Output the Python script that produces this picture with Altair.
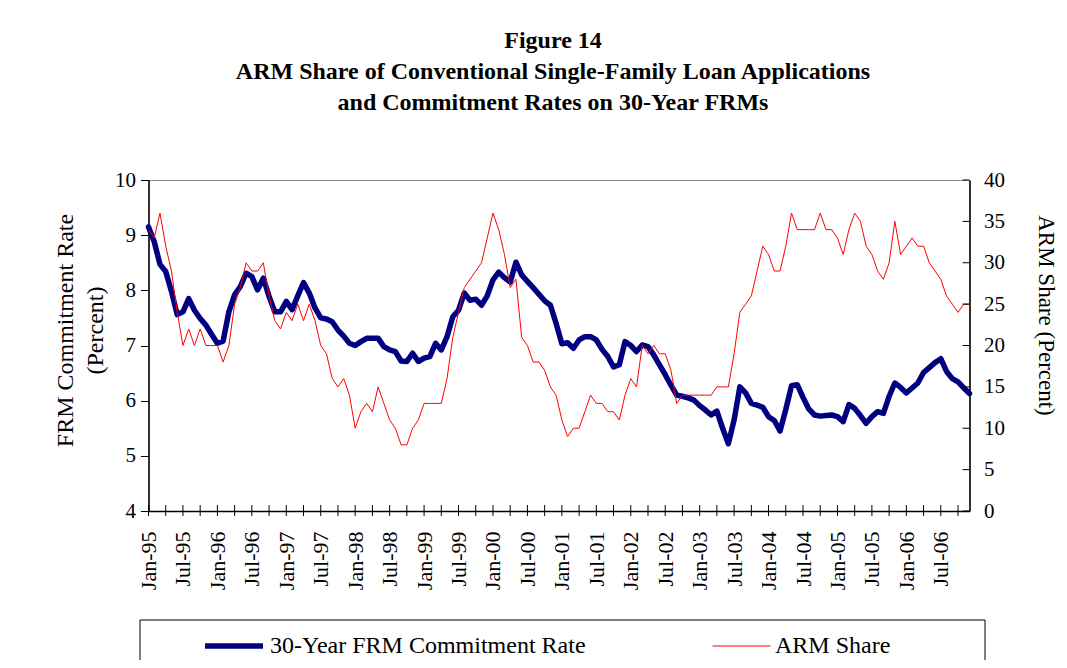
import json
import altair as alt
import pandas as pd

MONTH_NAMES = ["Jan", "Feb", "Mar", "Apr", "May", "Jun",
               "Jul", "Aug", "Sep", "Oct", "Nov", "Dec"]
months = [f"{m}-{y % 100:02d}" for y in range(1995, 2007) for m in MONTH_NAMES]

frm_rate = [
    9.15, 8.88, 8.47, 8.34, 7.98, 7.56, 7.61, 7.85, 7.64, 7.49, 7.37, 7.20,
    7.04, 7.08, 7.61, 7.92, 8.07, 8.31, 8.25, 8.01, 8.22, 7.89, 7.61, 7.61,
    7.80, 7.65, 7.90, 8.14, 7.95, 7.68, 7.50, 7.48, 7.43, 7.28, 7.17, 7.04,
    7.00, 7.07, 7.13, 7.13, 7.13, 6.98, 6.92, 6.89, 6.72, 6.71, 6.86, 6.71,
    6.77, 6.80, 7.04, 6.92, 7.16, 7.52, 7.64, 7.95, 7.82, 7.84, 7.73, 7.90,
    8.19, 8.33, 8.23, 8.15, 8.51, 8.28, 8.16, 8.05, 7.93, 7.81, 7.73, 7.40,
    7.03, 7.05, 6.95, 7.10, 7.16, 7.16, 7.10, 6.93, 6.80, 6.61, 6.65, 7.07,
    7.00, 6.89, 7.01, 6.98, 6.83, 6.65, 6.47, 6.28, 6.10, 6.08, 6.05, 6.01,
    5.91, 5.83, 5.74, 5.81, 5.50, 5.22, 5.65, 6.25, 6.14, 5.95, 5.92, 5.88,
    5.71, 5.64, 5.45, 5.84, 6.27, 6.29, 6.06, 5.85, 5.74, 5.72, 5.73, 5.74,
    5.71, 5.62, 5.93, 5.86, 5.73, 5.59, 5.71, 5.80, 5.77, 6.08, 6.32, 6.24,
    6.14, 6.23, 6.32, 6.51, 6.60, 6.69, 6.76, 6.53, 6.40, 6.34, 6.23, 6.13,
]

arm_share = [
    34, 33, 36, 32, 29, 24, 20, 22, 20, 22, 20, 20,
    20, 18, 20, 25, 27, 30, 29, 29, 30, 26, 23, 22,
    24, 23, 25, 23, 25, 23, 20, 19, 16, 15, 16, 14,
    10, 12, 13, 12, 15, 13, 11, 10, 8, 8, 10, 11,
    13, 13, 13, 13, 16, 21, 24, 27, 28, 29, 30, 33,
    36, 34, 31, 27, 28, 21, 20, 18, 18, 17, 15, 14,
    11, 9, 10, 10, 12, 14, 13, 13, 12, 12, 11, 14,
    16, 15, 20, 19, 20, 19, 19, 17, 13, 14, 14, 14,
    14, 14, 14, 15, 15, 15, 19, 24, 25, 26, 29, 32,
    31, 29, 29, 32, 36, 34, 34, 34, 34, 36, 34, 34,
    33, 31, 34, 36, 35, 32, 31, 29, 28, 30, 35, 31,
    32, 33, 32, 32, 30, 29, 28, 26, 25, 24, 25, 25,
]

frm_ticks = [4, 5, 6, 7, 8, 9, 10]
arm_ticks = [0, 5, 10, 15, 20, 25, 30, 35, 40]
x_label_idx = list(range(0, len(months), 6))
x_tick_idx = list(range(0, len(months), 3))
series_names = ["30-Year FRM Commitment Rate", "ARM Share"]
series_colors = ["#000080", "#FF0000"]
series_widths = [5.5, 1.0]

W, H = 821, 331
FONT = "Liberation Serif"
N = len(months)

df = pd.DataFrame({
    "idx": list(range(N)) * 2,
    "month": months * 2,
    "series": [series_names[0]] * N + [series_names[1]] * N,
    "value": frm_rate + arm_share,
})
df_xticks = pd.DataFrame({"idx": x_tick_idx})
df_aticks = pd.DataFrame({"v": arm_ticks})
df_box = pd.DataFrame({"name": ["legend box"]})

x_enc = alt.X(
    "idx:Q",
    scale=alt.Scale(domain=[0, N - 1], nice=False, zero=False),
    axis=alt.Axis(
        values=x_label_idx, labelExpr=f"{json.dumps(months)}[datum.value]",
        labelAngle=-90, ticks=False, tickSize=0, labelPadding=20,
        labelFont=FONT, labelFontSize=22, labelColor="black",
        domainColor="black", domainWidth=1.5, title=None,
        labelOverlap=False, labelFlush=False, labelBound=False, grid=False,
    ),
)

legend = alt.Legend(
    title=" ", orient="none", legendX=-8.5, legendY=441, direction="horizontal",
    labelFont=FONT, labelFontSize=24, labelColor="black", labelLimit=600,
    symbolType="stroke", symbolSize=3364, clipHeight=26, labelOffset=4,
    columnPadding=126, titleOrient="left", titleFontSize=1, titlePadding=50,
    padding=12,
)

color_enc = alt.Color("series:N", scale=alt.Scale(domain=series_names, range=series_colors),
                      legend=legend)
width_enc = alt.StrokeWidth("series:N", scale=alt.Scale(domain=series_names, range=series_widths),
                            legend=legend)

legend_box = alt.Chart(df_box).mark_rect(
    filled=False, stroke="black", strokeWidth=1
).encode(
    x=alt.value(-8.5), x2=alt.value(836.5), y=alt.value(440), y2=alt.value(510),
)

frm_line = alt.Chart(df).transform_filter(
    alt.datum.series == series_names[0]
).mark_line(strokeJoin="round", strokeCap="round").encode(
    x=x_enc,
    y=alt.Y("value:Q", scale=alt.Scale(domain=[4, 10], nice=False, zero=False),
            axis=alt.Axis(
                orient="left", values=frm_ticks, tickSize=8, tickColor="black",
                domainColor="black", domainWidth=1.5, labelFont=FONT, labelFontSize=21,
                labelColor="black", labelPadding=5, labelFlush=False, grid=False,
                title=["FRM Commitment Rate", "(Percent)"], titleFont=FONT,
                titleFontSize=24, titleFontWeight="normal", titleColor="black",
                titleAngle=270, titleX=-83.5, titleY=150, titleAlign="center",
                titleBaseline="middle", titleLineHeight=30,
            )),
    color=color_enc,
    strokeWidth=width_enc,
)

arm_line = alt.Chart(df).transform_filter(
    alt.datum.series == series_names[1]
).mark_line(strokeJoin="miter").encode(
    x=x_enc,
    y=alt.Y("value:Q", scale=alt.Scale(domain=[0, 40], nice=False),
            axis=alt.Axis(
                orient="right", values=arm_ticks, ticks=False, tickSize=0,
                domainColor="black", domainWidth=1.5, labelFont=FONT, labelFontSize=21,
                labelColor="black", labelPadding=14, labelFlush=False, grid=False,
                title="ARM Share (Percent)", titleFont=FONT, titleFontSize=23,
                titleFontWeight="normal", titleColor="black", titleAngle=90,
                titleX=76, titleY=135, titleAlign="center", titleBaseline="middle",
            )),
    color=color_enc,
    strokeWidth=width_enc,
)

x_tick_rules = alt.Chart(df_xticks).mark_rule(color="black", strokeWidth=1).encode(
    x=x_enc, y=alt.value(H - 6), y2=alt.value(H + 5),
)

arm_tick_rules = alt.Chart(df_aticks).mark_rule(color="black", strokeWidth=1).encode(
    y=alt.Y("v:Q", scale=alt.Scale(domain=[0, 40], nice=False), axis=None),
    x=alt.value(W - 7), x2=alt.value(W),
)

chart = alt.layer(
    legend_box, frm_line, arm_line, x_tick_rules, arm_tick_rules
).resolve_scale(
    y="independent"
).properties(
    width=W, height=H,
    autosize=alt.AutoSizeParams(type="none"),
    padding={"left": 140.5, "top": 172, "right": 89, "bottom": 149},
    title=alt.TitleParams(
        text=["Figure 14",
              "ARM Share of Conventional Single-Family Loan Applications",
              "and Commitment Rates on 30-Year FRMs"],
        font=FONT, fontSize=24, fontWeight="bold", color="black",
        anchor="middle", frame="group", offset=54, lineHeight=31, dx=-6,
    ),
).configure_view(stroke="#888888", strokeWidth=1)

chart.save("out.html", embed_options={"renderer": "svg", "actions": False})
